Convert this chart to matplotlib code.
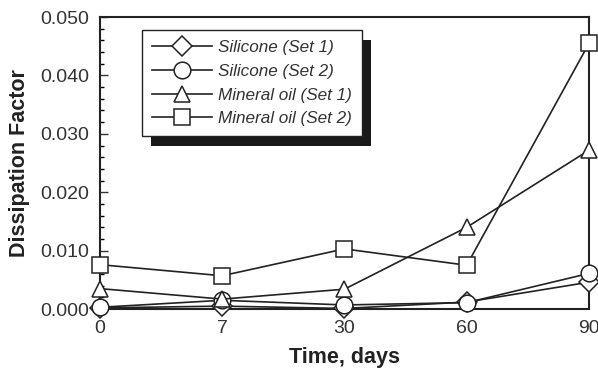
import matplotlib
matplotlib.use("Agg")
import matplotlib.pyplot as plt
from matplotlib.patches import Rectangle
from matplotlib.ticker import MultipleLocator

plt.rcParams['font.family'] = ['Liberation Sans', 'DejaVu Sans']

days = ["0", "7", "30", "60", "90"]
silicone_set1 = [0.0002, 0.0005, 0.0001, 0.0012, 0.0046]
silicone_set2 = [0.0003, 0.0015, 0.0007, 0.0011, 0.0061]
mineral_set1 = [0.0035, 0.0017, 0.0034, 0.0140, 0.0272]
mineral_set2 = [0.0076, 0.0057, 0.0103, 0.0075, 0.0455]
labels = ["Silicone (Set 1)", "Silicone (Set 2)", "Mineral oil (Set 1)", "Mineral oil (Set 2)"]
yticks = [0.0, 0.01, 0.02, 0.03, 0.04, 0.05]

fig = plt.figure(figsize=(5.98, 3.71), dpi=100)
ax = fig.add_axes([0.167, 0.167, 0.818, 0.787])

x = list(range(len(days)))
styles = [("D", 10), ("o", 12), ("^", 11), ("s", 11)]
series = [silicone_set1, silicone_set2, mineral_set1, mineral_set2]
for ys, (m, ms), lab in zip(series, styles, labels):
    ax.plot(x, ys, color="#222222", lw=1.2, marker=m, ms=ms, mfc="white",
            mec="#222222", mew=1.1, label=lab, clip_on=False, zorder=3)

ax.set_xlim(0, 4)
ax.set_ylim(0, 0.05)
ax.set_xticks(x)
ax.set_xticklabels(days)
ax.set_yticks(yticks)
ax.set_yticklabels([f"{v:.3f}" for v in yticks])
ax.yaxis.set_minor_locator(MultipleLocator(0.002))
ax.tick_params(axis="y", which="major", direction="in", length=6, width=1, labelsize=14, colors="#333333", pad=8)
ax.tick_params(axis="y", which="minor", direction="in", length=3, width=1)
ax.tick_params(axis="x", length=0, labelsize=14, colors="#333333", pad=8)
for s in ax.spines.values():
    s.set_linewidth(1.5)
    s.set_color("#222222")

ax.set_xlabel("Time, days", fontsize=15.5, fontweight="bold", color="#222222", labelpad=7)
ax.set_ylabel("Dissipation Factor", fontsize=15.5, fontweight="bold", color="#222222", labelpad=7)

leg = ax.legend(loc="upper left", bbox_to_anchor=(0.086, 0.955), frameon=True, fancybox=False,
                edgecolor="#222222", framealpha=1, handlelength=3.5, handletextpad=0.35,
                borderpad=0.6, labelspacing=0.5, borderaxespad=0,
                prop={"style": "italic", "size": 12.3})
leg.get_frame().set_linewidth(1.0)
for t in leg.get_texts():
    t.set_color("#333333")
leg.set_zorder(5)

fig.canvas.draw()
bb = leg.get_window_extent().transformed(fig.transFigure.inverted())
off_x, off_y = 9 / 598, 10 / 371
shadow = Rectangle((bb.x0 + off_x, bb.y0 - off_y), bb.width, bb.height,
                   transform=fig.transFigure, facecolor="#1a1a1a", edgecolor="none", zorder=4)
ax.add_patch(shadow)
shadow.set_clip_on(False)

fig.savefig("out.png", dpi=100)
